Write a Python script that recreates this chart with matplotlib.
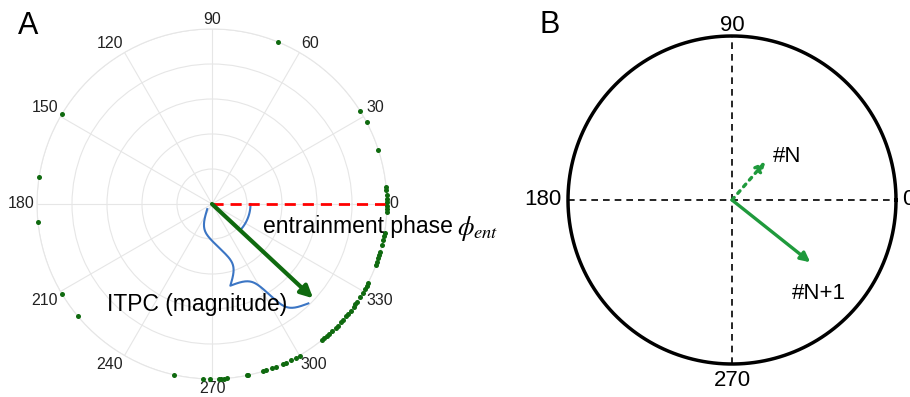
import numpy as np
import matplotlib.pyplot as plt

plt.rcParams['font.family'] = ['Liberation Sans', 'DejaVu Sans']
plt.rcParams['mathtext.fontset'] = 'stix'

# --- Panel A data: single-trial phases (deg), all drawn on the unit circle ---
trial_phase_deg = [
    68, 32, 28, 18, 5.5, 4.5, 3, 1.5, 0.5, -0.5, -1.5, -2.5,
    -9.5, -10.5, -12, -13.5, -16, -17, -18, -19.5, -20.5,
    -27, -28, -29, -30.5, -32, -34, -35, -36, -37.5, -39, -40,
    -41.5, -42.5, -44, -45, -46.5, -48, -49, -50, -51,
    -60, -61.5, -63, -65, -66, -68.5, -70, -72, -73, -78, -78.5,
    -85, -86, -87, -87.8, -90.8, -93, -102.5,
    220, 211, 186, 171, 149,
]
tick_angles = list(range(0, 360, 30))
tick_labels = [str(a) for a in tick_angles]
ring_radii = [0.2, 0.4, 0.6, 0.8, 1.0]
mean_phase_deg = -43
itpc = 0.79

# --- Panel B data: phase vectors of two consecutive cycles (deg, length) ---
b_angles = [0, 90, 180, 270]
b_labels = ['0', '90', '180', '270']
vec_n = (49, 0.31)
vec_n1 = (-38.5, 0.61)

dark_green = '#0f6a0f'
light_green = '#1f9a3c'
blue = '#3b75c4'

W, H = 910, 397
fig = plt.figure(figsize=(W / 100, H / 100), dpi=100)

# ---------- Panel A ----------
axA = fig.add_axes([37 / W, 1 - 379 / H, 350 / W, 350 / H], projection='polar')
axA.set_ylim(0, 1)
axA.set_rgrids(ring_radii)
axA.set_yticklabels([])
axA.set_thetagrids(tick_angles, [''] * len(tick_angles))
axA.grid(color='#e6e6e6', lw=0.8)
axA.spines['polar'].set_color('#e6e6e6')
axA.spines['polar'].set_linewidth(0.8)

# angle labels, edge-anchored just outside the circle
for a, lab in zip(tick_angles, tick_labels):
    c, s = np.cos(np.deg2rad(a)), np.sin(np.deg2rad(a))
    ha = 'left' if c > 0.1 else ('right' if c < -0.1 else 'center')
    va = 'bottom' if s > 0.1 else ('top' if s < -0.1 else 'center')
    axA.annotate(lab, xy=(np.deg2rad(a), 1), xytext=(2 * c, 1.5 * s),
                 textcoords='offset points', ha=ha, va=va, fontsize=11.5,
                 color='#222222', annotation_clip=False)

th = np.deg2rad(trial_phase_deg)
axA.scatter(th, np.ones(len(th)), s=13, color=dark_green, lw=0, clip_on=False, zorder=5)

# reference line at 0 deg
axA.plot([0, 0], [0, 1], color='red', lw=2, ls=(0, (4, 2.5)), zorder=3)

# mean vector
phi = np.deg2rad(mean_phase_deg)
axA.annotate('', xy=(phi, itpc), xytext=(0, 0),
             arrowprops=dict(arrowstyle='-|>', color=dark_green, lw=3,
                             mutation_scale=18, shrinkA=0, shrinkB=0), zorder=4)

# angle arc
arc = np.linspace(0, phi, 50)
axA.plot(arc, np.full_like(arc, 0.22), color=blue, lw=1.5)

# curly brace along the vector
def brace(length, base, cusp, ang, beta=35):
    half = np.linspace(0, length / 2, 80)
    y = 1 / (1 + np.exp(-beta * (half - half[0]))) + 1 / (1 + np.exp(-beta * (half - half[-1])))
    y = np.concatenate([y, y[-2::-1]])
    s = np.concatenate([half, length - half[-2::-1]])
    off = base + (y - 0.5) * (cusp - base)
    u = np.array([np.cos(ang), np.sin(ang)])
    n = np.array([np.sin(ang), -np.cos(ang)])
    x = s * u[0] + off * n[0]
    yy = s * u[1] + off * n[1]
    return np.arctan2(yy, x), np.hypot(x, yy)

bt, br = brace(itpc, 0.04, 0.27, phi)
axA.plot(bt, br, color=blue, lw=1.5, clip_on=False)

fig.text(263 / W, 1 - 227 / H, 'entrainment phase', fontsize=16.5, va='center', ha='left')
fig.text(457 / W, 1 - 229 / H, '$\\phi_{ent}$', fontsize=19, va='center', ha='left')
fig.text(107 / W, 1 - 305 / H, 'ITPC (magnitude)', fontsize=16.5, va='center', ha='left')
fig.text(18 / W, 1 - 26 / H, 'A', fontsize=22, va='center', ha='left')

# ---------- Panel B ----------
axB = fig.add_axes([568 / W, 1 - 364 / H, 328 / W, 328 / H])
axB.set_xlim(-1, 1)
axB.set_ylim(-1, 1)
axB.axis('off')

t = np.linspace(0, 2 * np.pi, 400)
axB.plot(np.cos(t), np.sin(t), color='black', lw=2.5, clip_on=False)
axB.plot([-1, 1], [0, 0], color='black', lw=1.2, ls=(0, (4, 3)))
axB.plot([0, 0], [-1, 1], color='black', lw=1.2, ls=(0, (4, 3)))

label_pos = {0: (1.04, 0, 'left', 'center'), 90: (0, 1.065, 'center', 'center'),
             180: (-1.04, 0, 'right', 'center'), 270: (0, -1.1, 'center', 'center')}
for a, lab in zip(b_angles, b_labels):
    x, y, ha, va = label_pos[a]
    axB.text(x, y, lab, fontsize=16, ha=ha, va=va, clip_on=False)

for (ang, ln), ls in [(vec_n, ':'), (vec_n1, '-')]:
    a = np.deg2rad(ang)
    axB.annotate('', xy=(ln * np.cos(a), ln * np.sin(a)), xytext=(0, 0),
                 arrowprops=dict(arrowstyle='-|>', color=light_green, lw=2.4, ls=ls,
                                 mutation_scale=14, shrinkA=0, shrinkB=0))

axB.text(0.25, 0.265, '#N', fontsize=16, ha='left', va='center')
axB.text(0.366, -0.57, '#N+1', fontsize=16, ha='left', va='center')
fig.text(540 / W, 1 - 25 / H, 'B', fontsize=22, va='center', ha='left')

fig.savefig('out.png', dpi=100)
